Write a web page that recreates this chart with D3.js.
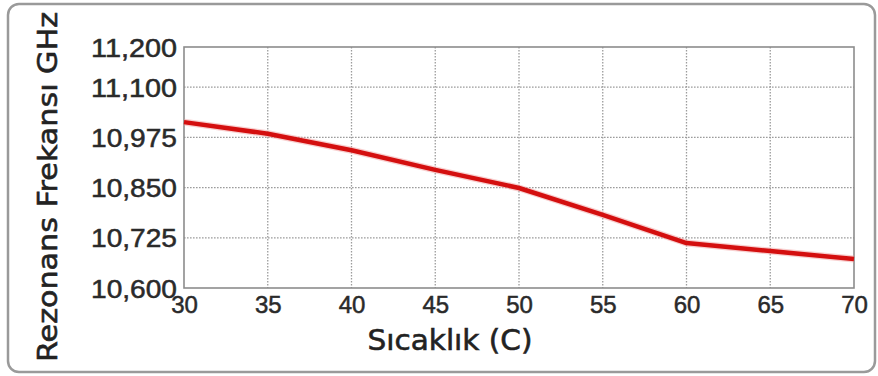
<!DOCTYPE html>
<html>
<head>
<meta charset="utf-8">
<script src="https://cdn.jsdelivr.net/npm/d3@7"></script>
<style>
  html, body { margin: 0; padding: 0; background: #fff; }
  svg { display: block; }
</style>
</head>
<body>
<svg id="chart" width="878" height="376"></svg>
<script>
// Resonance frequency vs. temperature
const temperatures = [30, 35, 40, 45, 50, 55, 60, 65, 70];
const frequencies = [11013, 10984, 10943, 10894, 10849, 10782, 10712, 10692, 10672];
const xTicks = [30, 35, 40, 45, 50, 55, 60, 65, 70];
const yTicks = [10600, 10725, 10850, 10975, 11100, 11200];
const xTitle = "Sıcaklık (C)";
const yTitle = "Rezonans Frekansı GHz";

const svg = d3.select("#chart");
const plot = { left: 184, right: 854, top: 47, bottom: 288 };

const x = d3.scaleLinear().domain([30, 70]).range([plot.left, plot.right]);
const y = d3.scaleLinear().domain([10600, 11200]).range([plot.bottom, plot.top]);

// Outer rounded frame
svg.append("rect")
  .attr("x", 8).attr("y", 4)
  .attr("width", 867).attr("height", 368)
  .attr("rx", 11).attr("ry", 11)
  .attr("fill", "#fff")
  .attr("stroke", "#9a9a9a")
  .attr("stroke-width", 2.5);

// Dotted grid
const grid = svg.append("g").attr("stroke", "#9c9c9c").attr("stroke-width", 1.3)
  .attr("stroke-dasharray", "1.6,1.4");
grid.selectAll("line.v").data(xTicks.slice(1, -1)).join("line")
  .attr("x1", d => x(d)).attr("x2", d => x(d))
  .attr("y1", plot.top).attr("y2", plot.bottom);
grid.selectAll("line.h").data(yTicks.slice(1, -1)).join("line")
  .attr("y1", d => y(d)).attr("y2", d => y(d))
  .attr("x1", plot.left).attr("x2", plot.right);

// Plot box
svg.append("rect")
  .attr("x", plot.left).attr("y", plot.top)
  .attr("width", plot.right - plot.left).attr("height", plot.bottom - plot.top)
  .attr("fill", "none").attr("stroke", "#8c8c8c").attr("stroke-width", 1.6);

// Axes (labels only; the box draws the spines)
const xAxis = svg.append("g")
  .attr("transform", `translate(0,${plot.bottom})`)
  .call(d3.axisBottom(x).tickValues(xTicks).tickSize(0).tickPadding(0).tickFormat(d3.format("d")));
xAxis.select(".domain").remove();
xAxis.selectAll("text")
  .attr("y", 25)
  .attr("dy", 0)
  .attr("fill", "#2a2a2a")
  .attr("stroke", "#2a2a2a")
  .attr("stroke-width", 0.5)
  .style("font-family", "'Liberation Sans', Arial, sans-serif")
  .style("font-size", "24px");

const yAxis = svg.append("g")
  .attr("transform", `translate(${plot.left},0)`)
  .call(d3.axisLeft(y).tickValues(yTicks).tickSize(0).tickPadding(7).tickFormat(d3.format(",")));
yAxis.select(".domain").remove();
yAxis.selectAll("text")
  .attr("dy", "0.36em")
  .attr("fill", "#2a2a2a")
  .attr("stroke", "#2a2a2a")
  .attr("stroke-width", 0.5)
  .attr("textLength", 86)
  .attr("lengthAdjust", "spacingAndGlyphs")
  .style("font-family", "'Liberation Sans', Arial, sans-serif")
  .style("font-size", "25px");

// Data line
const line = d3.line().x((d, i) => x(temperatures[i])).y(d => y(d));
svg.append("path")
  .datum(frequencies)
  .attr("d", line)
  .attr("fill", "none")
  .attr("stroke", "#f2a0a0")
  .attr("stroke-width", 7)
  .attr("stroke-linejoin", "round")
  .attr("opacity", 0.5);
svg.append("path")
  .datum(frequencies)
  .attr("d", line)
  .attr("fill", "none")
  .attr("stroke", "#d40f0f")
  .attr("stroke-width", 4.5)
  .attr("stroke-linejoin", "round");

// Axis titles
svg.append("text")
  .attr("x", 450).attr("y", 350)
  .attr("text-anchor", "middle")
  .attr("textLength", 165)
  .attr("lengthAdjust", "spacingAndGlyphs")
  .attr("fill", "#222")
  .attr("stroke", "#222")
  .attr("stroke-width", 0.6)
  .style("font-family", "'DejaVu Sans', Verdana, sans-serif")
  .style("font-size", "29px")
  .text(xTitle);

svg.append("text")
  .attr("transform", "translate(57,187) rotate(-90)")
  .attr("text-anchor", "middle")
  .attr("textLength", 350)
  .attr("lengthAdjust", "spacingAndGlyphs")
  .attr("fill", "#222")
  .attr("stroke", "#222")
  .attr("stroke-width", 0.6)
  .style("font-family", "'DejaVu Sans', Verdana, sans-serif")
  .style("font-size", "27px")
  .text(yTitle);
</script>
</body>
</html>
